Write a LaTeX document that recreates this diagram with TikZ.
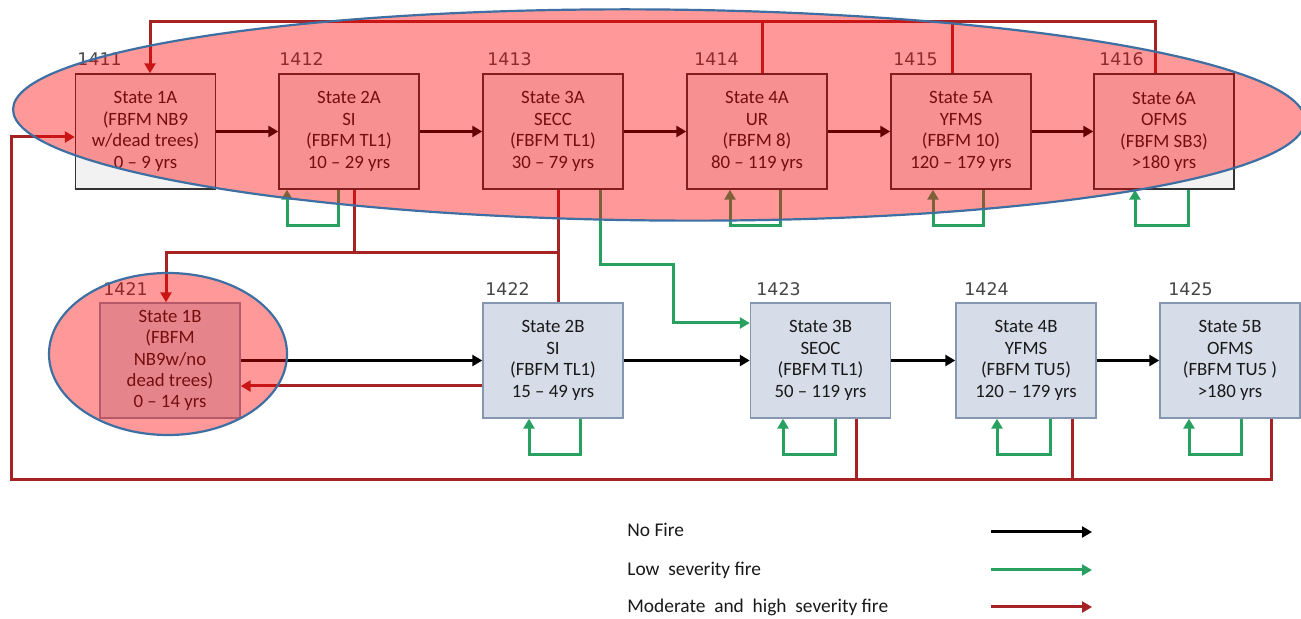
\documentclass[tikz,border=0pt]{standalone}
\usepackage{fontspec}
\setmainfont{Carlito}
\newfontfamily\numfont{DejaVu Sans}
\usetikzlibrary{arrows.meta}
\definecolor{firered}{RGB}{165,35,35}
\definecolor{lowgreen}{RGB}{40,160,95}
\definecolor{boxblue}{RGB}{214,221,232}
\definecolor{boxbluedraw}{RGB}{132,150,176}
\definecolor{boxgray}{RGB}{242,242,242}
\definecolor{ellblue}{RGB}{61,111,163}
\definecolor{numgray}{RGB}{70,70,70}
\begin{document}
\begin{tikzpicture}[x=0.5pt,y=-0.5pt,
  stbox/.style={draw=black!80, fill=boxgray, line width=0.7pt, minimum width=70pt,
    minimum height=57.5pt, inner sep=0pt, align=center,
    font=\fontsize{9.4}{10.75}\selectfont, text=black!90},
  stboxb/.style={stbox, draw=boxbluedraw, fill=boxblue},
  stboxc/.style={stboxb, font=\fontsize{9.4}{10.6}\selectfont},
  numlab/.style={font=\numfont\fontsize{8.7}{10}\selectfont, text=numgray, anchor=west, inner sep=0pt},
  legtext/.style={font=\fontsize{9.7}{11}\selectfont, text=black!90, anchor=west, inner sep=0pt},
  tip/.style={-{Triangle[length=5pt,width=5.5pt]}},
  nofire/.style={line width=1.5pt, black, tip},
  low/.style={line width=1.5pt, lowgreen, tip},
  fire/.style={line width=1.5pt, firered},
  firearr/.style={fire, tip},
  fireellipse/.style={fill=red, fill opacity=0.4, draw=ellblue, line width=1.1pt}
]
\fill[white] (0,0) rectangle (1301,619);
\useasboundingbox (0,0) rectangle (1301,619);

% top row
\node[stbox] (1A) at (145.5,131.5) {State 1A\\(FBFM NB9\\w/dead trees)\\0 – 9 yrs};
\node[stbox] (2A) at (349,131.5) {State 2A\\SI\\(FBFM TL1)\\10 – 29 yrs};
\node[stbox] (3A) at (553,131.5) {State 3A\\SECC\\(FBFM TL1)\\30 – 79 yrs};
\node[stbox] (4A) at (757,131.5) {State 4A\\UR\\(FBFM 8)\\80 – 119 yrs};
\node[stbox] (5A) at (961,131.5) {State 5A\\YFMS\\(FBFM 10)\\120 – 179 yrs};
\node[stbox] (6A) at (1164,131.5) {State 6A\\OFMS\\(FBFM SB3)\\>180 yrs};
% bottom row
\node[stboxc] (1B) at (170,360.5) {State 1B\\(FBFM\\NB9w/no\\dead trees)\\0 – 14 yrs};
\node[stboxb] (2B) at (553,360.5) {State 2B\\SI\\(FBFM TL1)\\15 – 49 yrs};
\node[stboxb] (3B) at (820.5,360.5) {State 3B\\SEOC\\(FBFM TL1)\\50 – 119 yrs};
\node[stboxb] (4B) at (1026,360.5) {State 4B\\YFMS\\(FBFM TU5)\\120 – 179 yrs};
\node[stboxb] (5B) at (1230,360.5) {State 5B\\OFMS\\(FBFM TU5 )\\>180 yrs};

% number labels
\node[numlab] (n1411) at (77,59) {1411};
\node[numlab] (n1412) at (279,59) {1412};
\node[numlab] (n1413) at (487,59) {1413};
\node[numlab] (n1414) at (694,59) {1414};
\node[numlab] (n1415) at (893,59) {1415};
\node[numlab] (n1416) at (1099,59) {1416};
\node[numlab] (n1421) at (103,289) {1421};
\node[numlab] (n1422) at (485,289) {1422};
\node[numlab] (n1423) at (756,289) {1423};
\node[numlab] (n1424) at (964,289) {1424};
\node[numlab] (n1425) at (1168,289) {1425};

% no fire succession
\draw[nofire] (1A) -- (2A);
\draw[nofire] (2A) -- (3A);
\draw[nofire] (3A) -- (4A);
\draw[nofire] (4A) -- (5A);
\draw[nofire] (5A) -- (6A);
\draw[nofire] (1B) -- (2B);
\draw[nofire] (2B) -- (3B);
\draw[nofire] (3B) -- (4B);
\draw[nofire] (4B) -- (5B);

% coordinates for fire connectors
\coordinate (tl) at (150,22);
\coordinate (tr) at (1155,22);
\coordinate (t4) at (762,22);
\coordinate (t5) at (952,22);
\coordinate (bl) at (11,480);
\coordinate (br) at (1271,480);
\coordinate (b3) at (856,480);
\coordinate (b4) at (1072,480);
\coordinate (m1) at (166,253);
\coordinate (m2) at (354,253);
\coordinate (m3) at (558,253);
\coordinate (g1) at (600,265);
\coordinate (g2) at (673,265);

% moderate / high severity fire
\draw[firearr] (6A.north -| tr) -- (tr) -- (tl) -- (1A.north -| tl);
\draw[fire] (4A.north -| t4) -- (t4);
\draw[fire] (5A.north -| t5) -- (t5);
\draw[firearr] (5B.south -| br) -- (br) -- (bl) |- ([yshift=-2.75pt]1A.west);
\draw[fire] (3B.south -| b3) -- (b3);
\draw[fire] (4B.south -| b4) -- (b4);
\draw[fire] (2A.south -| m2) -- (m2);
\draw[fire] (3A.south -| m3) -- (2B.north -| m3);
\draw[firearr] (m3) -- (m1) -- (1B.north -| m1);
\draw[firearr] ([yshift=-12.75pt]2B.west) -- ([yshift=-12.75pt]1B.east);

% low severity fire
\draw[low] (3A.south -| g1) -- (g1) -- (g2) |- ([yshift=18.75pt]3B.west);
\draw[low] ([xshift=-5.5pt]2A.south) -- ++(0,36) -| ([xshift=-31pt]2A.south);
\draw[low] ([xshift=11.5pt]4A.south) -- ++(0,36) -| ([xshift=-13.5pt]4A.south);
\draw[low] ([xshift=11pt]5A.south) -- ++(0,36) -| ([xshift=-14pt]5A.south);
\draw[low] ([xshift=12pt]6A.south) -- ++(0,36) -| ([xshift=-14.5pt]6A.south);
\draw[low] ([xshift=13.5pt]2B.south) -- ++(0,36) -| ([xshift=-12pt]2B.south);
\draw[low] ([xshift=7.25pt]3B.south) -- ++(0,36) -| ([xshift=-18.75pt]3B.south);
\draw[low] ([xshift=12pt]4B.south) -- ++(0,36) -| ([xshift=-14.5pt]4B.south);
\draw[low] ([xshift=5.5pt]5B.south) -- ++(0,36) -| ([xshift=-20.5pt]5B.south);

% highlight ellipses
\draw[fireellipse] (659,115) ellipse [x radius=323pt, y radius=52.75pt, rotate=-0.5];
\draw[fireellipse] (168,354) ellipse [x radius=59.5pt, y radius=40.5pt];

% legend
\node[legtext] (l1) at (627,530) {No Fire};
\node[legtext] (l2) at (627,570) {Low\ \ severity fire};
\node[legtext] (l3) at (627,607) {Moderate\ \ and\ \ high\ \ severity fire};
\coordinate (a1s) at (991,532); \coordinate (a1e) at (1092,532);
\coordinate (a2s) at (991,570); \coordinate (a2e) at (1092,570);
\coordinate (a3s) at (991,607); \coordinate (a3e) at (1092,607);
\draw[nofire] (a1s) -- (a1e);
\draw[low] (a2s) -- (a2e);
\draw[firearr] (a3s) -- (a3e);
\end{tikzpicture}
\end{document}
